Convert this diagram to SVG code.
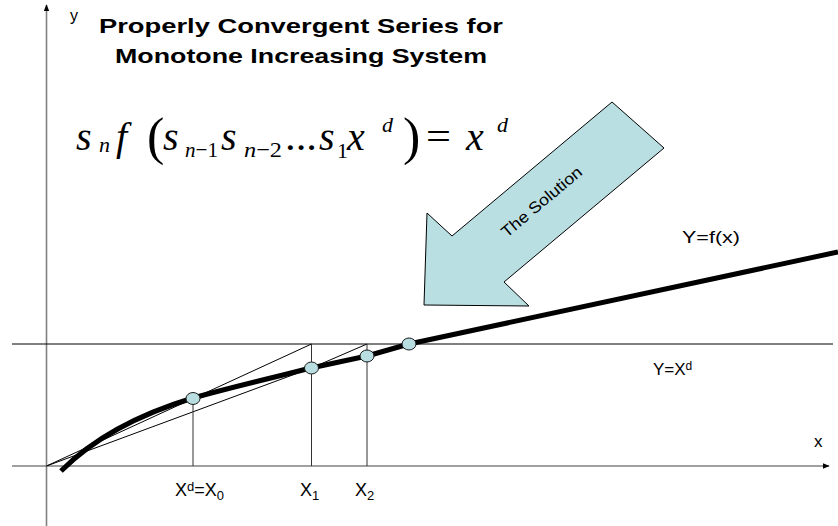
<svg xmlns="http://www.w3.org/2000/svg" width="838" height="526" viewBox="0 0 838 526">
<defs>
<style>
.ax{stroke:#808080;stroke-width:1.6;fill:none}
.thin{stroke:#000;stroke-width:1;fill:none}
.vl{stroke:#333;stroke-width:1;fill:none}
.curve{stroke:#000;stroke-width:5;fill:none;stroke-linejoin:round}
.pt{fill:#B8DEE2;stroke:#1a1a1a;stroke-width:1}
.lbl{font-family:"Liberation Sans",Arial,sans-serif;fill:#000}
.ttl{font-family:"Liberation Sans",Arial,sans-serif;font-weight:bold;font-size:21px;fill:#000;text-anchor:middle}
.m{font-family:"Liberation Serif","Times New Roman",serif;fill:#000}
.it{font-style:italic}
</style>
<marker id="ah" viewBox="0 0 10 10" refX="9" refY="5" markerWidth="7" markerHeight="7" orient="auto" markerUnits="userSpaceOnUse">
<path d="M0,1 L10,5 L0,9 Z" fill="#000"/>
</marker>
</defs>
<rect width="838" height="526" fill="#fff"/>

<g id="axes">
<line class="ax" x1="46.5" y1="526" x2="46.5" y2="5" marker-end="url(#ah)"/>
<line class="ax" x1="12" y1="466" x2="829" y2="466" marker-end="url(#ah)"/>
<text class="lbl" x="70" y="21" font-size="16">y</text>
<text class="lbl" x="814" y="447" font-size="17">x</text>
</g>

<g id="title">
<text class="ttl" x="301" y="33" textLength="404" lengthAdjust="spacingAndGlyphs">Properly Convergent Series for</text>
<text class="ttl" x="301" y="63" textLength="372" lengthAdjust="spacingAndGlyphs">Monotone Increasing System</text>
</g>

<g id="formula">
<text class="m it" x="76" y="150" font-size="40">s</text>
<text class="m it" x="99" y="152" font-size="22">n</text>
<text class="m it" x="116" y="150" font-size="40">f</text>
<text class="m" x="147" y="154" font-size="52">(</text>
<text class="m it" x="163" y="150" font-size="40">s</text>
<text class="m" x="185" y="157" font-size="22" textLength="33" lengthAdjust="spacingAndGlyphs"><tspan class="it">n</tspan>−1</text>
<text class="m it" x="221" y="150" font-size="40">s</text>
<text class="m" x="244" y="157" font-size="22" textLength="38" lengthAdjust="spacingAndGlyphs"><tspan class="it">n</tspan>−2</text>
<text class="m" x="285" y="150" font-size="40" textLength="32" lengthAdjust="spacingAndGlyphs">...</text>
<text class="m it" x="319" y="150" font-size="40">s</text>
<text class="m" x="337" y="158" font-size="22">1</text>
<text class="m it" x="347" y="150" font-size="40">x</text>
<text class="m it" x="382" y="132" font-size="22">d</text>
<text class="m" x="403" y="154" font-size="52">)</text>
<text class="m" x="426" y="150" font-size="40" textLength="25" lengthAdjust="spacingAndGlyphs">=</text>
<text class="m it" x="466" y="150" font-size="40">x</text>
<text class="m it" x="497" y="132" font-size="22">d</text>
</g>

<g id="level-line">
<line class="thin" x1="12" y1="344" x2="833" y2="344" stroke-width="1.5"/>
<text class="lbl" x="653" y="375" font-size="17">Y=X<tspan font-size="12" dy="-5">d</tspan></text>
</g>

<g id="connectors">
<line class="thin" x1="46.5" y1="466" x2="311.5" y2="344"/>
<line class="thin" x1="46.5" y1="466" x2="311.5" y2="368"/>
<line class="thin" x1="311.5" y1="368" x2="367" y2="344"/>
<line class="vl" x1="193" y1="398" x2="193" y2="466"/>
<line class="vl" x1="311.5" y1="344" x2="311.5" y2="466"/>
<line class="vl" x1="367" y1="344" x2="367" y2="466"/>
</g>

<g id="curve">
<path class="curve" d="M61,471 C80,452 120,420 193,398 C240,385 280,376 311,368 L367,356 L409,344 L838,252"/>
<text class="lbl" x="682" y="243" font-size="17" textLength="58" lengthAdjust="spacingAndGlyphs">Y=f(x)</text>
</g>

<g id="point-x0"><ellipse class="pt" cx="193" cy="398.5" rx="7" ry="6"/></g>
<g id="point-x1"><ellipse class="pt" cx="311.5" cy="368" rx="7" ry="6"/></g>
<g id="point-x2"><ellipse class="pt" cx="367" cy="356" rx="7" ry="6"/></g>
<g id="point-solution"><ellipse class="pt" cx="409" cy="344" rx="7" ry="6"/></g>

<g id="x-labels">
<text class="lbl" x="175" y="496" font-size="18">X<tspan font-size="13" dy="-5">d</tspan><tspan dy="5">=X</tspan><tspan font-size="13" dy="4">0</tspan></text>
<text class="lbl" x="300" y="496" font-size="18">X<tspan font-size="13" dy="4">1</tspan></text>
<text class="lbl" x="355" y="496" font-size="18">X<tspan font-size="13" dy="4">2</tspan></text>
</g>

<g id="solution-arrow">
<polygon points="424,305 529,306 504,282 664,148 612,102 452,236 427,213" fill="#BADFE3" stroke="#000" stroke-width="1"/>
<text class="lbl" font-size="16" text-anchor="middle" transform="translate(545,206) rotate(-40)" textLength="100" lengthAdjust="spacingAndGlyphs">The Solution</text>
</g>
</svg>
